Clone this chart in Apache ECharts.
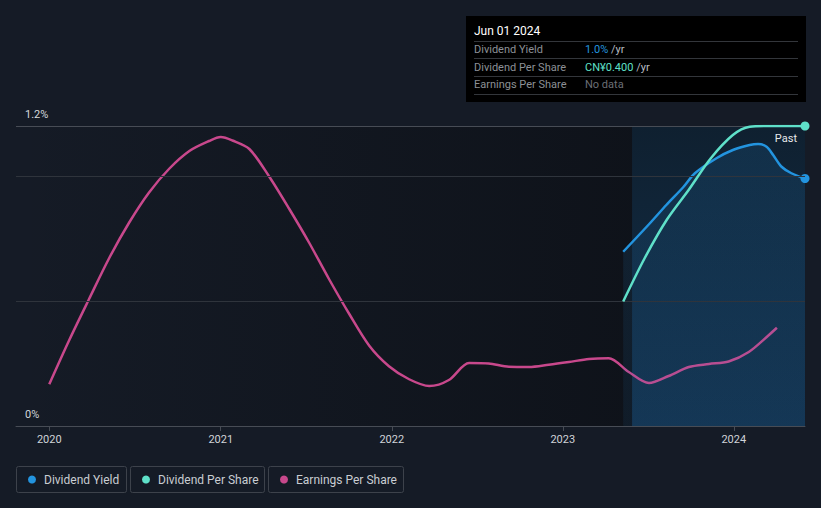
<!DOCTYPE html>
<html>
<head>
<meta charset="utf-8">
<script src="https://cdn.jsdelivr.net/npm/echarts@6/dist/echarts.min.js"></script>
<style>
html, body { margin: 0; padding: 0; background: #151b26; }
#chart { width: 821px; height: 508px; }
</style>
</head>
<body>
<div id="chart"></div>
<script>
// dividend yield (%)
const yieldDates = ['2023-05-10', '2023-07-06', '2023-08-10', '2023-09-15', '2023-10-10', '2023-11-25', '2023-12-30', '2024-02-04', '2024-02-22', '2024-03-11', '2024-03-25', '2024-04-12', '2024-05-03', '2024-06-01']
const yieldValues = [0.697, 0.811, 0.884, 0.955, 1.011, 1.071, 1.104, 1.124, 1.128, 1.117, 1.084, 1.037, 1.011, 0.99]

// dividend per share (CN¥)
const dpsDates = ['2023-05-10', '2023-06-25', '2023-08-11', '2023-09-27', '2023-11-13', '2023-12-30', '2024-02-04', '2024-03-11', '2024-06-01']
const dpsValues = [0.166, 0.224, 0.275, 0.315, 0.357, 0.388, 0.399, 0.4, 0.4]

// earnings per share (relative scale)
const epsDates = ['2020-01-01', '2020-02-12', '2020-03-26', '2020-05-08', '2020-06-19', '2020-08-01', '2020-09-13', '2020-10-26', '2020-12-07', '2021-01-01', '2021-01-26', '2021-03-03', '2021-04-14', '2021-05-27', '2021-07-09', '2021-08-20', '2021-10-02', '2021-11-14', '2021-12-26', '2022-02-07', '2022-03-22', '2022-05-03', '2022-06-15', '2022-07-27', '2022-09-08', '2022-10-21', '2022-12-02', '2023-01-14', '2023-02-26', '2023-04-09', '2023-05-22', '2023-07-04', '2023-08-15', '2023-09-27', '2023-11-09', '2023-12-21', '2024-02-02', '2024-03-16', '2024-04-02']
const epsValues = [0.167, 0.341, 0.508, 0.672, 0.812, 0.934, 1.029, 1.1, 1.14, 1.156, 1.142, 1.108, 0.999, 0.869, 0.732, 0.588, 0.449, 0.321, 0.239, 0.187, 0.16, 0.184, 0.252, 0.25, 0.237, 0.236, 0.245, 0.256, 0.268, 0.271, 0.216, 0.172, 0.2, 0.236, 0.248, 0.258, 0.296, 0.364, 0.393]

const gridValues = [0.5, 1.0, 1.2]

const xMin = '2019-10-22'
const xMax = '2024-06-01'
const pastStart = '2023-05-29'

const tipDate = 'Jun 01 2024'
const tipRows = [
  { label: 'Dividend Yield', value: '1.0%', unit: ' /yr', color: '#2394df' },
  { label: 'Dividend Per Share', value: 'CN¥0.400', unit: ' /yr', color: '#5fe0c9' },
  { label: 'Earnings Per Share', value: 'No data', unit: '', color: '#6b6f76' }
]

const colors = { yield: '#2394df', dps: '#5fe0c9', eps: '#c8488c' }
const legendItems = [
  { name: 'Dividend Yield', color: colors.yield, x: 16, w: 110 },
  { name: 'Dividend Per Share', color: colors.dps, x: 130, w: 134 },
  { name: 'Earnings Per Share', color: colors.eps, x: 268, w: 135 }
]

const DAY = 86400000
const toTime = d => new Date(d + 'T00:00:00Z').getTime()
const pairs = (dates, vals) => dates.map((d, i) => ({ value: [toTime(d), vals[i]] }))
const withEnd = (dates, vals, color) => {
  const arr = pairs(dates, vals)
  const last = arr[arr.length - 1]
  last.symbol = 'circle'
  last.symbolSize = 9
  last.itemStyle = { color: color }
  return arr
}

const myChart = echarts.init(document.getElementById('chart'), null, { renderer: 'svg' })

const graphic = []
// tooltip box
graphic.push({ type: 'rect', shape: { x: 466, y: 16, width: 340, height: 86 }, style: { fill: '#000' }, z: 100 })
graphic.push({ type: 'text', x: 474, y: 31, z: 101, style: { text: tipDate, fill: '#ffffff', font: '12px Roboto', verticalAlign: 'middle' } })
const sepY = [41, 58, 76, 94]
sepY.forEach(y => {
  graphic.push({ type: 'rect', shape: { x: 474, y: y, width: 324, height: 1 }, style: { fill: '#33363b' }, z: 101 })
})
tipRows.forEach((r, i) => {
  const cy = 49.5 + i * 17.7
  graphic.push({ type: 'text', x: 474, y: cy, z: 101, style: { text: r.label, fill: '#8c9096', font: '11px Roboto', verticalAlign: 'middle' } })
  graphic.push({
    type: 'text', x: 585, y: cy, z: 101,
    style: {
      text: '{v|' + r.value + '}{u|' + r.unit + '}',
      verticalAlign: 'middle',
      rich: {
        v: { fill: r.color, font: '11px Roboto' },
        u: { fill: '#b8bcc2', font: '11px Roboto' }
      }
    }
  })
})
// "Past" label
graphic.push({ type: 'text', x: 797, y: 138, z: 50, style: { text: 'Past', fill: '#e6e8ea', font: '11px Roboto', align: 'right', verticalAlign: 'middle' } })
// legend boxes
legendItems.forEach(it => {
  graphic.push({ type: 'rect', shape: { x: it.x + 0.5, y: 466.5, width: it.w, height: 26, r: 2 }, style: { fill: 'transparent', stroke: '#3d424b', lineWidth: 1 } })
  graphic.push({ type: 'circle', shape: { cx: it.x + 16, cy: 479.5, r: 4 }, style: { fill: it.color } })
  graphic.push({ type: 'text', x: it.x + 28, y: 479.5, style: { text: it.name, fill: '#c9cdd2', font: '12px Roboto', verticalAlign: 'middle' } })
})

const option = {
  backgroundColor: '#151b26',
  animation: false,
  grid: { left: 16, right: 16, top: 126, bottom: 82, containLabel: false },
  xAxis: {
    type: 'time',
    min: toTime(xMin),
    max: toTime(xMax),
    minInterval: 365 * DAY,
    maxInterval: 366 * DAY,
    axisLine: { lineStyle: { color: '#474c55', width: 1 } },
    axisTick: { show: true, length: 5, lineStyle: { color: '#474c55' } },
    axisLabel: {
      formatter: '{yyyy}',
      showMinLabel: false,
      showMaxLabel: false,
      color: '#d0d3d8',
      fontFamily: 'Roboto',
      fontSize: 11,
      margin: 8
    },
    splitLine: { show: false }
  },
  yAxis: [
    {
      type: 'value', min: 0, max: 1.2, interval: 1.2,
      axisLine: { show: false }, axisTick: { show: false },
      splitLine: { show: false },
      axisLabel: {
        inside: true,
        margin: 9,
        verticalAlign: 'bottom',
        padding: [0, 0, 6, 0],
        formatter: v => (v === 0 ? '0' : v.toFixed(1)) + '%',
        color: '#d6d9dd',
        fontFamily: 'Roboto',
        fontSize: 11
      }
    },
    { type: 'value', min: 0, max: 0.4, show: false },
    { type: 'value', min: 0, max: 1.2, show: false }
  ],
  graphic: graphic,
  series: [
    {
      name: 'Earnings Per Share',
      type: 'line',
      yAxisIndex: 2,
      smooth: 0.3,
      symbol: 'none',
      lineStyle: { color: colors.eps, width: 2.5 },
      data: pairs(epsDates, epsValues),
      z: 3,
      markArea: {
        silent: true,
        data: [
          [{ xAxis: toTime(xMin), itemStyle: { color: { type: 'linear', x: 0, y: 0, x2: 1, y2: 0, colorStops: [{ offset: 0, color: 'rgba(8,10,14,0)' }, { offset: 1, color: 'rgba(8,10,14,0.5)' }] } } }, { xAxis: toTime(pastStart) }],
          [{ xAxis: toTime(pastStart), itemStyle: { color: { type: 'linear', x: 0, y: 0, x2: 0, y2: 1, colorStops: [{ offset: 0, color: '#0f2030' }, { offset: 1, color: '#13304b' }] } } }, { xAxis: toTime(xMax) }]
        ]
      }
    },
    {
      name: 'Dividend Yield',
      type: 'line',
      yAxisIndex: 0,
      smooth: 0.3,
      symbol: 'none',
      lineStyle: { color: colors.yield, width: 2.5 },
      areaStyle: {
        color: { type: 'linear', x: 0, y: 0, x2: 0, y2: 1, colorStops: [{ offset: 0, color: 'rgba(35,130,200,0.22)' }, { offset: 1, color: 'rgba(35,130,200,0.12)' }] }
      },
      data: withEnd(yieldDates, yieldValues, colors.yield),
      z: 4,
      markLine: {
        silent: true,
        symbol: 'none',
        label: { show: false },
        data: gridValues.map(v => ({ yAxis: v, lineStyle: { color: v === 1.2 ? '#474c55' : '#2f343c', width: 1, type: 'solid' } }))
      }
    },
    {
      name: 'Dividend Per Share',
      type: 'line',
      yAxisIndex: 1,
      smooth: 0.3,
      symbol: 'none',
      lineStyle: { color: colors.dps, width: 2.5 },
      data: withEnd(dpsDates, dpsValues, colors.dps),
      z: 5
    }
  ]
}
myChart.setOption(option)
</script>
</body>
</html>
